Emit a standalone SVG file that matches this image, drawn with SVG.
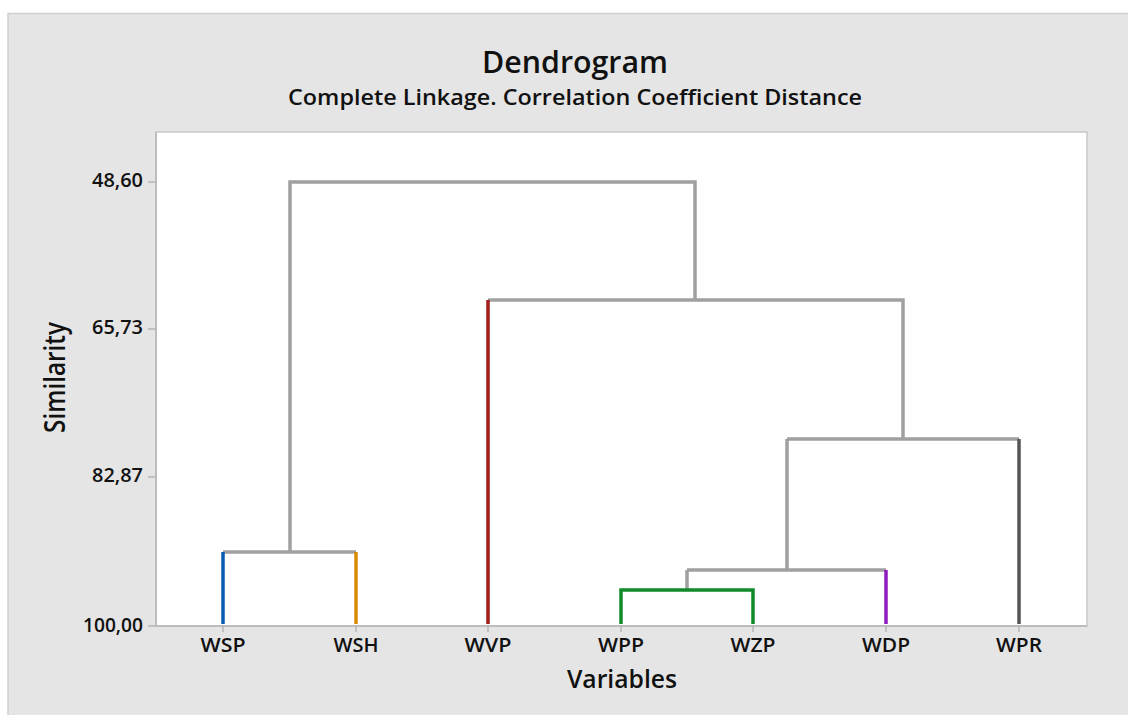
<svg xmlns="http://www.w3.org/2000/svg" width="1128" height="715" viewBox="0 0 1128 715">
<style>
text{font-family:"Open Sans","Noto Sans","Liberation Sans",sans-serif;fill:#111;font-weight:600}
.tick{font-size:19px;text-anchor:end}
.xl{font-size:20px;text-anchor:middle}
.br{fill:none;stroke:#a0a0a0;stroke-width:3.5;stroke-linejoin:miter}
.leaf{fill:none;stroke-width:3.5}
.ax{stroke:#bdbdbd;stroke-width:2;fill:none}
.tk{stroke:#b5b5b5;stroke-width:1.5}
</style>
<rect x="0" y="0" width="1128" height="715" fill="#ffffff"/>
<rect x="8" y="13.5" width="1122" height="705" fill="#e5e5e5" stroke="#cfcfcf" stroke-width="1.5"/>
<g id="title">
<text x="575" y="73" font-size="30" text-anchor="middle" textLength="186" lengthAdjust="spacingAndGlyphs">Dendrogram</text>
<text x="575" y="105" font-size="21" text-anchor="middle" textLength="574" lengthAdjust="spacingAndGlyphs">Complete Linkage. Correlation Coefficient Distance</text>
</g>
<g id="plot">
<rect x="156" y="132" width="931" height="494" fill="#ffffff" stroke="#c8c8c8" stroke-width="1.5"/>
<path class="ax" d="M156,132 V626 H1087"/>
</g>
<g id="y-axis">
<path class="tk" d="M148,182 H156 M148,329 H156 M148,477 H156 M148,626 H156"/>
<text class="tick" x="143" y="187" textLength="51" lengthAdjust="spacingAndGlyphs">48,60</text>
<text class="tick" x="143" y="334" textLength="51" lengthAdjust="spacingAndGlyphs">65,73</text>
<text class="tick" x="143" y="482" textLength="51" lengthAdjust="spacingAndGlyphs">82,87</text>
<text class="tick" x="143" y="632" textLength="60" lengthAdjust="spacingAndGlyphs">100,00</text>
<text x="0" y="0" font-size="28" text-anchor="middle" textLength="111" lengthAdjust="spacingAndGlyphs" transform="translate(65,377.5) rotate(-90)">Similarity</text>
</g>
<g id="x-axis">
<path class="tk" d="M223,626 V632 M356,626 V632 M488,626 V632 M621,626 V632 M753,626 V632 M886,626 V632 M1019,626 V632"/>
<text class="xl" x="223" y="652" textLength="45" lengthAdjust="spacingAndGlyphs">WSP</text>
<text class="xl" x="356" y="652" textLength="45" lengthAdjust="spacingAndGlyphs">WSH</text>
<text class="xl" x="488" y="652" textLength="47" lengthAdjust="spacingAndGlyphs">WVP</text>
<text class="xl" x="621" y="652" textLength="46" lengthAdjust="spacingAndGlyphs">WPP</text>
<text class="xl" x="753" y="652" textLength="45" lengthAdjust="spacingAndGlyphs">WZP</text>
<text class="xl" x="886" y="652" textLength="48" lengthAdjust="spacingAndGlyphs">WDP</text>
<text class="xl" x="1019" y="652" textLength="46" lengthAdjust="spacingAndGlyphs">WPR</text>
<text x="622" y="688" font-size="25" text-anchor="middle" textLength="110" lengthAdjust="spacingAndGlyphs">Variables</text>
</g>
<g id="connectors">
<path class="br" d="M223,552 H356 M290,552 V182 H695 V300 M488,300 H903 V439 M787,439 H1019 M787,439 V570 M687,570 H886 M687,570 V590"/>
<path class="leaf" stroke="#0a5cb0" d="M223,624 V552"/>
<path class="leaf" stroke="#d98c00" d="M356,624 V552"/>
<path class="leaf" stroke="#a11d1d" d="M488,624 V300"/>
<path class="leaf" stroke="#118a2a" d="M621,624 V590 H753 V624"/>
<path class="leaf" stroke="#8e1cbe" d="M886,624 V570"/>
<path class="leaf" stroke="#555555" d="M1019,624 V439"/>
</g>
</svg>
